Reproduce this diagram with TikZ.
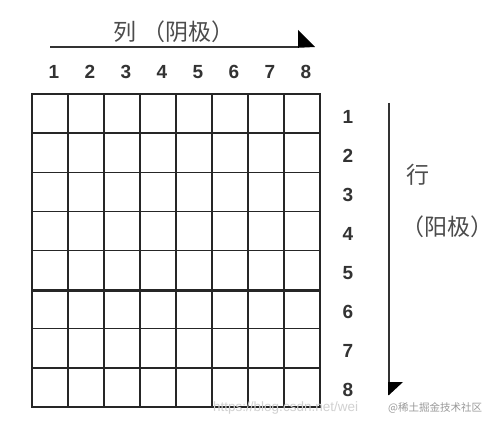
\documentclass[tikz,border=0pt]{standalone}
\usepackage{fontspec}
\setmainfont{Liberation Sans}
\newfontfamily\cjk{Noto Sans CJK SC}
\begin{document}
\begin{tikzpicture}[x=1pt,y=-1pt,
  gridline/.style={line width=1.4pt,black!85},
  thickline/.style={line width=2.2pt,black!85},
  axisline/.style={line width=1.5pt,black!80},
  head/.style={fill=black},
  digit/.style={font=\bfseries\fontsize{19}{20}\selectfont,text=black!80,inner sep=0pt},
  cjklabel/.style={font=\cjk\fontsize{23}{24}\selectfont,text=black!70,inner sep=0pt},
  wmtext/.style={inner sep=0pt}]
\useasboundingbox (0,0) rectangle (494,427);
\fill[white] (0,0) rectangle (494,427);
% grid
\foreach \i in {0,...,8}{
  \draw[gridline] ({32+36*\i},94) -- ({32+36*\i},407);
  \draw[gridline] (32,{94+39.125*\i}) -- (320,{94+39.125*\i});
}
\draw[thickline] (212,94) -- (212,407);
\draw[thickline] (32,133.1) -- (320,133.1);
\draw[thickline] (32,290.6) -- (320,290.6);
\draw[gridline] (32,94) rectangle (320,407);
% column axis
\node[cjklabel] (coltitle) at (174,32) {列\hspace{0.3em}（阴极）};
\coordinate (cs) at (50,47);
\coordinate (ce) at (315,47);
\draw[axisline] (cs) -- (298,47);
\fill[head] (298,30) -- (298,47.8) -- (ce) -- cycle;
\foreach \i in {1,...,8}{
  \node[digit] (c\i) at ({54+36*(\i-1)},72) {\i};
}
% row axis
\foreach \i in {1,...,8}{
  \node[digit] (r\i) at (348,{117+39*(\i-1)}) {\i};
}
\coordinate (rs) at (389,103);
\coordinate (re) at (389,395);
\draw[axisline] (rs) -- (389,382);
\fill[head] (388.2,382) -- (403,382) -- (re) -- (388.2,395) -- cycle;
\node[cjklabel] (rowtitle) at (418,175) {行};
\node[cjklabel] (rowsub) at (447,227) {（阳极）};
% watermarks
\node[wmtext,font=\fontsize{13.5}{14}\selectfont,text=black!18,anchor=west] (wm1) at (213,408) {https://blog.csdn.net/wei};
\node[wmtext,font=\cjk\fontsize{10.5}{11}\selectfont,text=black!40,anchor=west] (wm2) at (388,408) {@稀土掘金技术社区};
\end{tikzpicture}
\end{document}
